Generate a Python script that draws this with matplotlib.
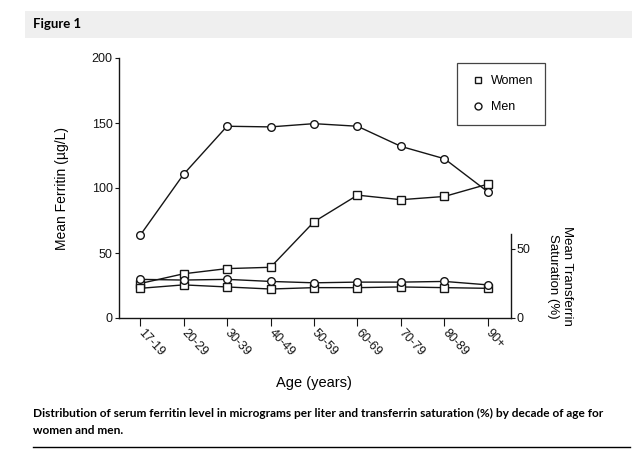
import matplotlib
matplotlib.use("Agg")
import matplotlib.pyplot as plt
from matplotlib.lines import Line2D
from matplotlib.patches import Rectangle

# ---------------- data ----------------
age_groups = ["17-19", "20-29", "30-39", "40-49", "50-59", "60-69", "70-79", "80-89", "90+"]
men_ferritin = [63.5, 110.5, 147.5, 147, 149.5, 147.5, 132, 122.5, 97]
women_ferritin = [26.5, 34, 38, 39, 74, 94.5, 91, 93.5, 103]
men_saturation = [28, 27.5, 28, 26.5, 25.5, 26, 26, 26.5, 24]
women_saturation = [21.5, 24, 22.5, 21, 22, 22, 22.5, 22, 21.5]
left_ticks = [0, 50, 100, 150, 200]
right_ticks = [0, 50]
legend_labels = ["Women", "Men"]

W, H = 636, 449
fig = plt.figure(figsize=(W / 100, H / 100), dpi=100)
plt.rcParams["font.family"] = ["Liberation Sans", "DejaVu Sans"]


def fx(px):
    return px / W


def fy(py):
    return 1 - py / H


# header band
fig.patches.append(Rectangle((fx(25), fy(38)), fx(632) - fx(25), fy(11) - fy(38),
                             transform=fig.transFigure, facecolor="#efefef",
                             edgecolor="none", zorder=0))
fig.text(fx(33), fy(24.5), "Figure 1", fontsize=9.5, fontweight="bold",
         family=["Lato", "DejaVu Sans"], va="center", ha="left")

# axes
left, right, top, bottom = 119, 511, 58, 318
ax = fig.add_axes([fx(left), fy(bottom), (right - left) / W, (bottom - top) / H])
ax.patch.set_alpha(0)
x = list(range(len(age_groups)))
ax.set_xlim(-0.484, 8.53)
ax.set_ylim(0, 200)

ink = "#151515"
mk = dict(markersize=5.5, markerfacecolor="white", markeredgecolor=ink,
          markeredgewidth=1.0, color=ink, linewidth=1.0)
ax.plot(x, women_ferritin, marker="s", **mk, zorder=3)
ax.plot(x, men_ferritin, marker="o", **mk, zorder=3)

for s in ["top", "right"]:
    ax.spines[s].set_visible(False)
ax.spines["left"].set_linewidth(1.0)
ax.spines["bottom"].set_linewidth(1.0)
ax.spines["left"].set_color(ink)
ax.spines["bottom"].set_color(ink)
ax.set_yticks(left_ticks)
ax.set_yticklabels([str(t) for t in left_ticks])
ax.tick_params(axis="y", direction="out", length=3, width=0.8, pad=1.5,
               labelsize=9, colors=ink)
ax.set_xticks(x)
ax.set_xticklabels(age_groups, rotation=-47, ha="left", va="center",
                   rotation_mode="anchor")
ax.tick_params(axis="x", direction="out", length=6, width=0.8, pad=3,
               labelsize=9, colors=ink)

# twin axis for saturation
ax2 = ax.twinx()
ax2.set_ylim(0, 260 / 1.38)
ax2.plot(x, women_saturation, marker="s", **mk, zorder=3)
ax2.plot(x, men_saturation, marker="o", **mk, zorder=3)
for s in ["top", "left", "bottom"]:
    ax2.spines[s].set_visible(False)
ax2.spines["right"].set_bounds(0, 61)
ax2.spines["right"].set_linewidth(1.0)
ax2.spines["right"].set_color(ink)
ax2.set_yticks(right_ticks)
ax2.set_yticklabels([str(t) for t in right_ticks])
ax2.tick_params(axis="y", direction="out", length=3, width=0.8, pad=1,
                labelsize=9, colors=ink)

# legend
handles = [Line2D([], [], linestyle="none", marker="s", markersize=5,
                  markerfacecolor="white", markeredgecolor=ink, markeredgewidth=1.0),
           Line2D([], [], linestyle="none", marker="o", markersize=5,
                  markerfacecolor="white", markeredgecolor=ink, markeredgewidth=1.0)]
leg = ax2.legend(handles, legend_labels, loc="upper left",
                 bbox_to_anchor=((457 - left) / (right - left), (bottom - 63) / (bottom - top)),
                 borderaxespad=0, fontsize=9, frameon=True, fancybox=False,
                 borderpad=0.95, labelspacing=1.15, handlelength=1.5,
                 handletextpad=0.25)
leg.get_frame().set_edgecolor(ink)
leg.get_frame().set_linewidth(0.9)

# axis titles
fig.text(fx(62), fy(188), "Mean Ferritin (µg/L)", rotation=90, fontsize=10,
         ha="center", va="center")
fig.text(fx(560), fy(276), "Mean Transferrin\nSaturation (%)", rotation=270,
         fontsize=9.5, ha="center", va="center", linespacing=1.15)
fig.text(fx(314), fy(383), "Age (years)", fontsize=10.5, ha="center", va="center")

# caption
cap_font = ["Lato", "DejaVu Sans"]
line1 = ("Distribution of serum ferritin level in micrograms per liter and "
         "transferrin saturation (%) by decade of age for")
line2 = "women and men."
t1 = fig.text(fx(33), fy(413), line1, fontsize=8.5, family=cap_font,
              fontweight="bold", ha="left", va="center")
t2 = fig.text(fx(33), fy(431), line2, fontsize=8.5, family=cap_font,
              fontweight="bold", ha="left", va="center")
fig.canvas.draw()
r = fig.canvas.get_renderer()
w1 = t1.get_window_extent(r).width
fs = 8.5 * (604 - 33) / w1
t1.set_fontsize(fs)
t2.set_fontsize(fs)

fig.add_artist(Line2D([fx(33), fx(630)], [fy(446.5), fy(446.5)],
                      transform=fig.transFigure, color="black", linewidth=1.0))

fig.savefig("out.png", dpi=100)
